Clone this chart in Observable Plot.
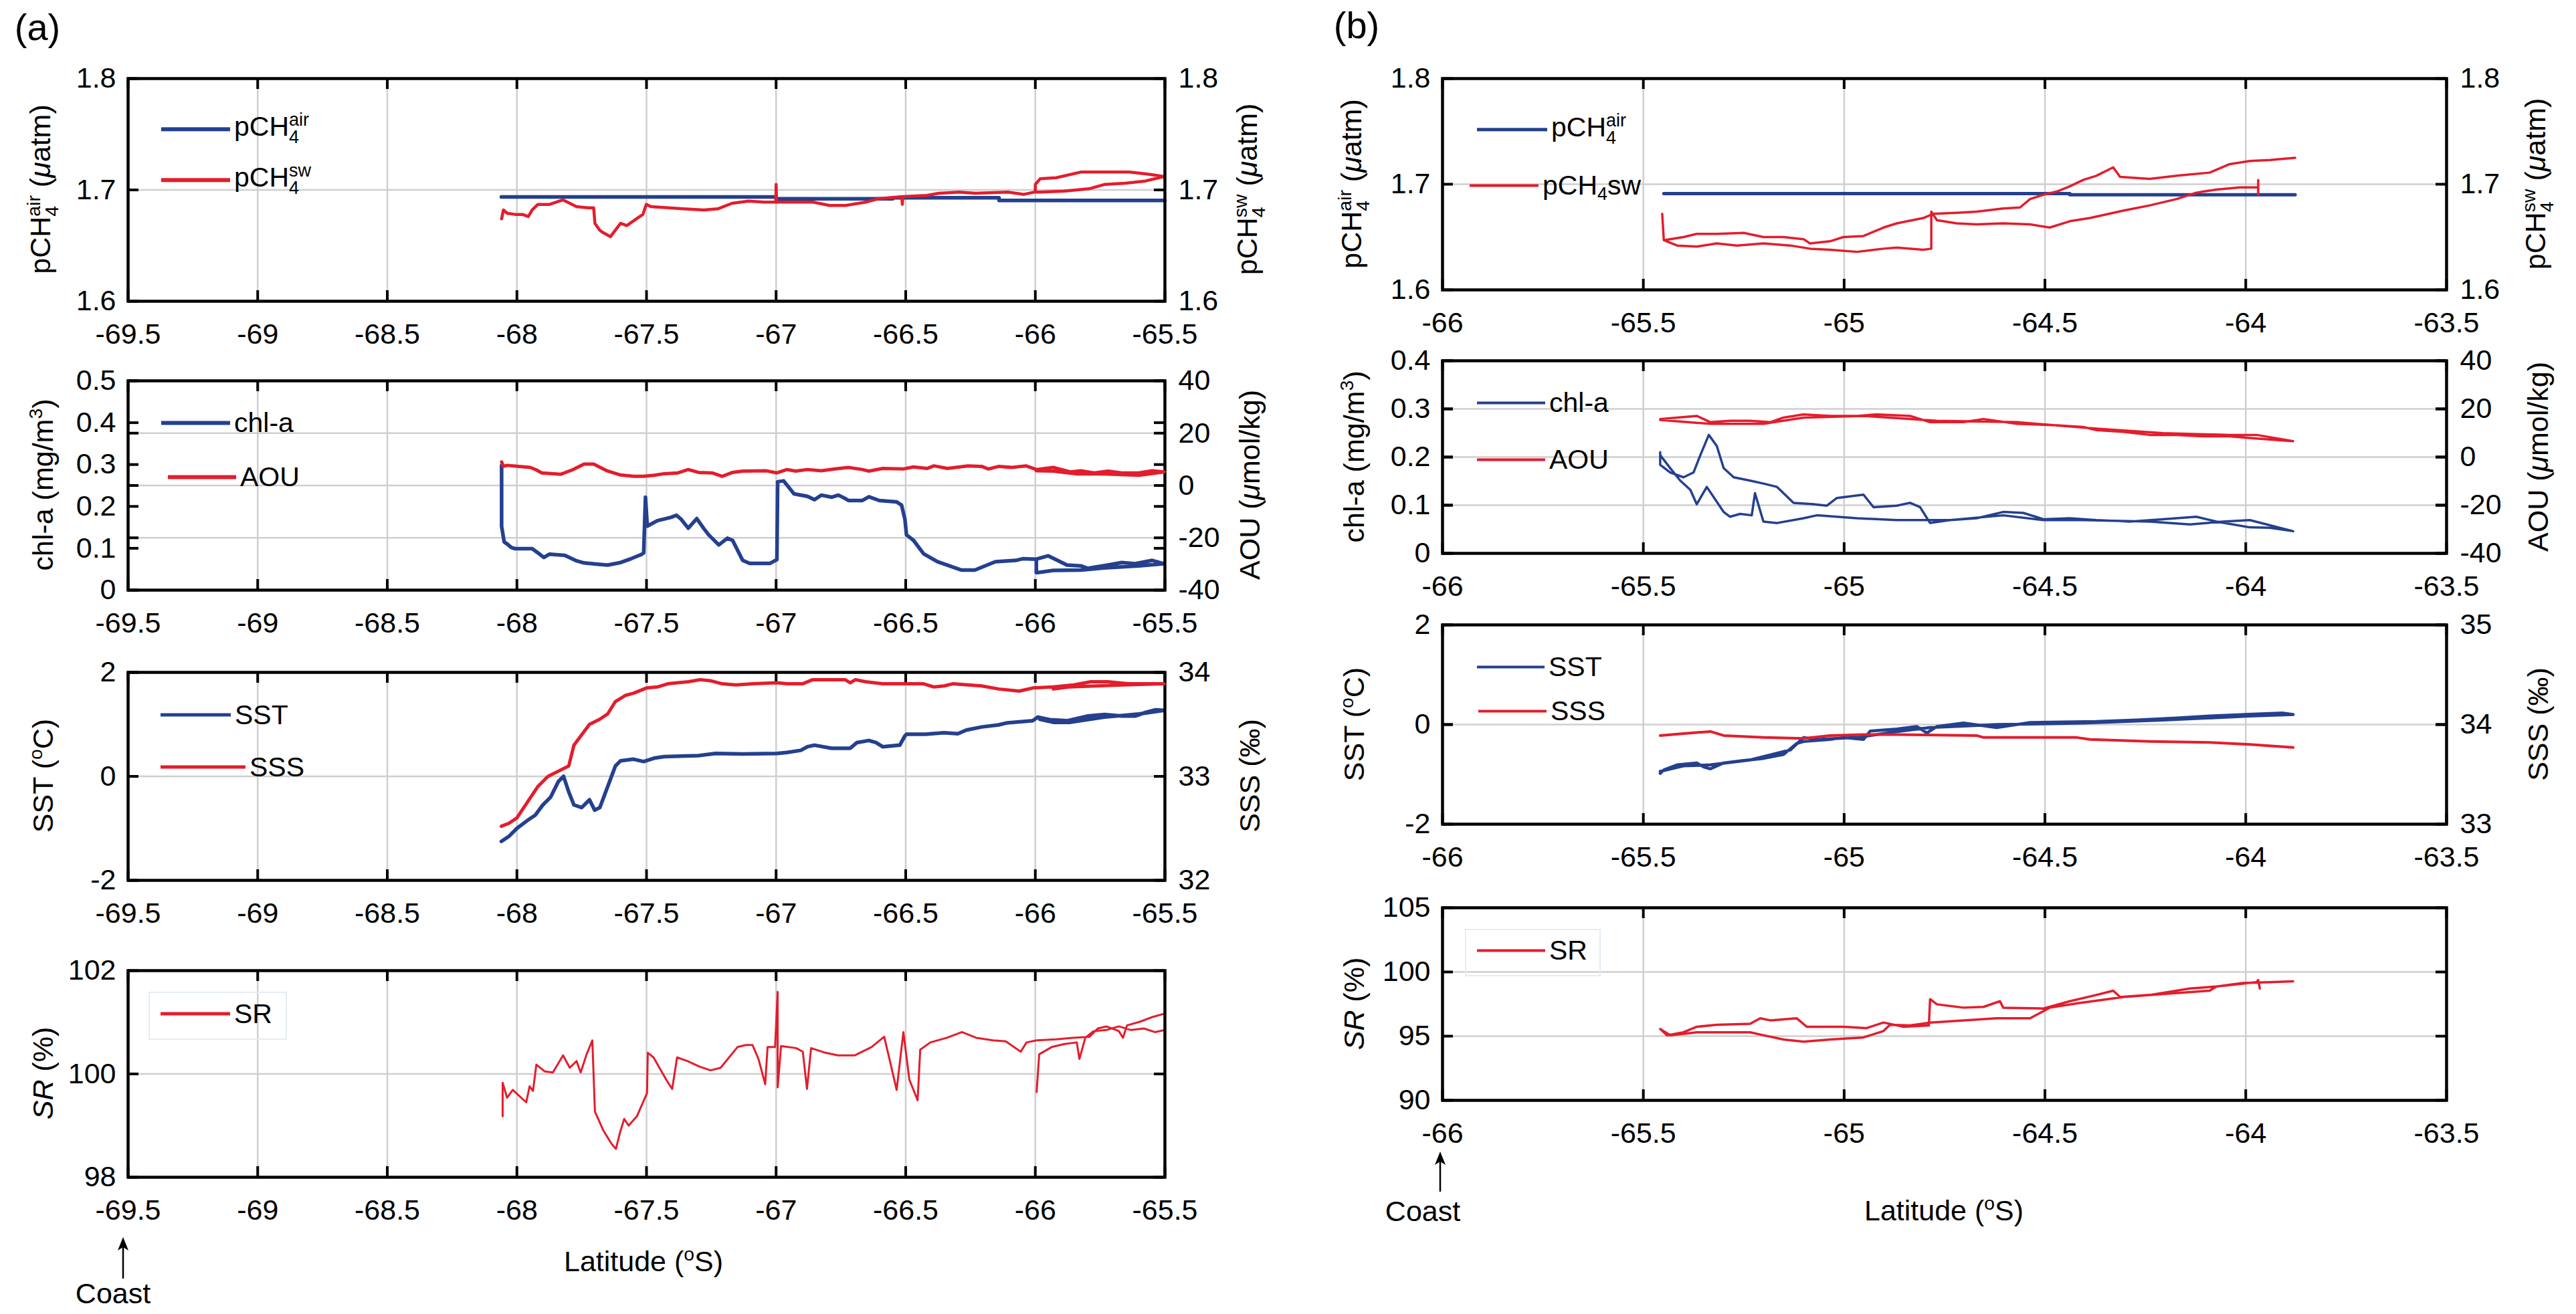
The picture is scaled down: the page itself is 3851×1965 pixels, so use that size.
<!DOCTYPE html>
<html><head><meta charset="utf-8">
<script src="https://cdn.jsdelivr.net/npm/d3@7"></script>
<script src="https://cdn.jsdelivr.net/npm/@observablehq/plot@0.6"></script>
<style>
html,body{margin:0;padding:0;background:#fff;}
#fig{position:relative;width:3851px;height:1965px;overflow:hidden;background:#fff;font-family:"Liberation Sans",Arial,sans-serif;color:#000;}
.lbl{position:absolute;white-space:nowrap;line-height:1;transform:translate(-50%,-50%) rotate(-90deg);}
.ctr{position:absolute;white-space:nowrap;line-height:1;transform:translate(-50%,-50%);}
.ss{display:inline-block;font-size:0.66em;line-height:0.95;vertical-align:-0.42em;text-align:left;}
.ss>span{display:block;}
sup{font-size:0.66em;vertical-align:0.55em;line-height:0;}
sub{font-size:0.66em;vertical-align:-0.3em;line-height:0;}
.leg{position:absolute;display:flex;align-items:center;white-space:nowrap;font-size:41px;line-height:1;transform:translateY(-50%);}
.leg .sw{margin-right:6px;}
.box{position:absolute;border:2px solid #e3edf3;background:transparent;}
</style></head><body><div id="fig"></div><script>
// ---------- tick values ----------
const xTicksA = [-69.5,-69,-68.5,-68,-67.5,-67,-66.5,-66,-65.5];
const xTicksB = [-66,-65.5,-65,-64.5,-64,-63.5];
const ticksPCH4 = [1.6,1.7,1.8];
const ticksChlA = [0,0.1,0.2,0.3,0.4,0.5];
const ticksChlB = [0,0.1,0.2,0.3,0.4];
const ticksAOU = [-40,-20,0,20,40];
const gridAOU = [-20,0,20];
const ticksSST = [-2,0,2];
const ticksSSSA = [32,33,34];
const ticksSSSB = [33,34,35];
const ticksSRA = [98,100,102];
const ticksSRB = [90,95,100,105];

// ---------- (a) series: [latitude, value] ----------
const a_pch4air = [[-68.06,1.6937],[-67.0,1.6937],[-67.0,1.692],[-66.55,1.692],[-66.55,1.693],[-66.14,1.693],[-66.14,1.6905],[-65.5,1.6905]];
const a_pch4sw = [[-68.059,1.674],[-68.052,1.682],[-68.037,1.679],[-68.007,1.678],[-67.978,1.678],[-67.956,1.676],[-67.941,1.682],[-67.919,1.687],[-67.874,1.687],[-67.822,1.691],[-67.770,1.685],[-67.726,1.684],[-67.704,1.684],[-67.699,1.670],[-67.681,1.664],[-67.670,1.662],[-67.639,1.658],[-67.600,1.670],[-67.576,1.668],[-67.545,1.673],[-67.514,1.678],[-67.501,1.687],[-67.483,1.685],[-67.358,1.683],[-67.279,1.682],[-67.225,1.683],[-67.170,1.688],[-67.107,1.690],[-67.045,1.689],[-67.001,1.689],[-67.000,1.705],[-66.998,1.689],[-66.857,1.689],[-66.794,1.686],[-66.732,1.686],[-66.654,1.689],[-66.607,1.692],[-66.515,1.694],[-66.513,1.687],[-66.511,1.694],[-66.419,1.695],[-66.372,1.697],[-66.294,1.698],[-66.231,1.697],[-66.106,1.698],[-66.044,1.696],[-66.005,1.698],[-65.981,1.698],[-65.887,1.699],[-65.793,1.701],[-65.731,1.705],[-65.653,1.706],[-65.575,1.708],[-65.504,1.712],[-65.559,1.714],[-65.637,1.716],[-65.715,1.716],[-65.825,1.716],[-65.919,1.711],[-65.981,1.710],[-66.000,1.705],[-66.000,1.698]];
const a_chl = [[-68.059,0.298],[-68.059,0.152],[-68.049,0.115],[-68.037,0.110],[-68.022,0.102],[-68.007,0.099],[-67.941,0.099],[-67.919,0.089],[-67.896,0.078],[-67.874,0.086],[-67.815,0.083],[-67.770,0.070],[-67.741,0.065],[-67.689,0.062],[-67.650,0.060],[-67.600,0.066],[-67.560,0.075],[-67.520,0.085],[-67.511,0.089],[-67.504,0.222],[-67.497,0.153],[-67.458,0.166],[-67.405,0.174],[-67.385,0.179],[-67.366,0.169],[-67.339,0.148],[-67.306,0.171],[-67.280,0.148],[-67.260,0.132],[-67.221,0.108],[-67.188,0.124],[-67.168,0.119],[-67.129,0.071],[-67.102,0.064],[-67.023,0.064],[-66.997,0.073],[-66.994,0.259],[-66.971,0.261],[-66.931,0.230],[-66.879,0.224],[-66.852,0.216],[-66.826,0.227],[-66.786,0.222],[-66.760,0.227],[-66.734,0.219],[-66.721,0.214],[-66.668,0.214],[-66.642,0.223],[-66.602,0.214],[-66.536,0.211],[-66.516,0.203],[-66.503,0.169],[-66.497,0.132],[-66.470,0.119],[-66.431,0.087],[-66.378,0.068],[-66.286,0.048],[-66.233,0.048],[-66.194,0.058],[-66.154,0.068],[-66.075,0.071],[-66.049,0.075],[-65.996,0.074],[-65.950,0.082],[-65.904,0.068],[-65.878,0.060],[-65.825,0.058],[-65.799,0.052],[-65.720,0.060],[-65.667,0.066],[-65.615,0.063],[-65.549,0.071],[-65.503,0.063],[-65.601,0.058],[-65.733,0.053],[-65.825,0.048],[-65.931,0.047],[-65.990,0.042],[-65.996,0.042],[-65.996,0.074]];
const a_aou = [[-68.059,9.0],[-68.052,7.3],[-68.037,7.7],[-67.993,7.3],[-67.948,6.9],[-67.926,6.0],[-67.904,4.8],[-67.830,4.3],[-67.785,6.0],[-67.741,8.2],[-67.704,8.2],[-67.650,5.5],[-67.600,4.0],[-67.550,3.5],[-67.511,3.5],[-67.471,3.9],[-67.432,4.5],[-67.379,4.8],[-67.339,6.1],[-67.300,5.0],[-67.247,4.8],[-67.208,3.5],[-67.168,5.0],[-67.129,5.5],[-67.037,5.6],[-66.997,4.8],[-66.958,6.1],[-66.925,5.5],[-66.879,6.1],[-66.826,5.6],[-66.773,6.3],[-66.721,6.9],[-66.668,6.1],[-66.642,5.5],[-66.589,6.5],[-66.510,6.3],[-66.470,7.1],[-66.418,6.5],[-66.391,7.5],[-66.339,6.5],[-66.260,7.5],[-66.207,7.3],[-66.181,6.3],[-66.141,7.3],[-66.089,6.9],[-66.036,7.5],[-65.996,6.1],[-65.931,6.9],[-65.865,5.2],[-65.825,5.6],[-65.773,4.8],[-65.720,5.5],[-65.667,4.8],[-65.601,4.8],[-65.549,5.6],[-65.503,5.2],[-65.601,3.9],[-65.733,4.4],[-65.838,4.4],[-65.931,5.5],[-65.996,5.6]];
const a_sst = [[-68.06,-1.25],[-68.03,-1.15],[-68.0,-1.0],[-67.96,-0.85],[-67.93,-0.75],[-67.9,-0.55],[-67.87,-0.4],[-67.84,-0.1],[-67.82,0.0],[-67.8,-0.3],[-67.78,-0.55],[-67.75,-0.6],[-67.72,-0.45],[-67.7,-0.65],[-67.68,-0.6],[-67.65,-0.2],[-67.62,0.2],[-67.6,0.3],[-67.55,0.33],[-67.511,0.285],[-67.471,0.35],[-67.432,0.38],[-67.300,0.40],[-67.234,0.44],[-67.129,0.43],[-66.997,0.44],[-66.958,0.46],[-66.905,0.50],[-66.879,0.57],[-66.852,0.60],[-66.786,0.54],[-66.714,0.54],[-66.688,0.65],[-66.642,0.69],[-66.615,0.65],[-66.589,0.57],[-66.523,0.60],[-66.503,0.78],[-66.497,0.81],[-66.424,0.81],[-66.352,0.84],[-66.299,0.82],[-66.266,0.89],[-66.207,0.95],[-66.141,0.99],[-66.108,1.03],[-66.010,1.07],[-65.990,1.14],[-65.944,1.09],[-65.878,1.07],[-65.799,1.16],[-65.733,1.19],[-65.667,1.16],[-65.615,1.16],[-65.575,1.23],[-65.536,1.28],[-65.503,1.27],[-65.601,1.20],[-65.733,1.14],[-65.865,1.04],[-65.931,1.04],[-65.983,1.10]];
const a_sss = [[-68.06,32.52],[-68.03,32.55],[-68.0,32.6],[-67.96,32.75],[-67.92,32.9],[-67.88,33.0],[-67.84,33.05],[-67.8,33.1],[-67.78,33.3],[-67.75,33.4],[-67.72,33.5],[-67.68,33.55],[-67.65,33.6],[-67.62,33.72],[-67.58,33.78],[-67.55,33.8],[-67.5,33.85],[-67.458,33.86],[-67.418,33.89],[-67.339,33.91],[-67.293,33.93],[-67.254,33.92],[-67.208,33.89],[-67.155,33.88],[-67.089,33.89],[-66.997,33.90],[-66.958,33.89],[-66.898,33.89],[-66.859,33.93],[-66.734,33.93],[-66.714,33.90],[-66.694,33.93],[-66.655,33.91],[-66.589,33.89],[-66.431,33.89],[-66.391,33.86],[-66.352,33.87],[-66.319,33.89],[-66.207,33.87],[-66.141,33.84],[-66.062,33.82],[-66.010,33.85],[-65.931,33.86],[-65.852,33.88],[-65.786,33.91],[-65.720,33.91],[-65.641,33.89],[-65.503,33.89],[-65.66,33.88],[-65.87,33.86],[-65.93,33.84]];
const a_sr = [[-68.055,99.18],[-68.055,99.83],[-68.038,99.54],[-68.016,99.69],[-67.964,99.45],[-67.951,99.76],[-67.938,99.67],[-67.925,100.18],[-67.893,100.05],[-67.861,100.03],[-67.822,100.36],[-67.796,100.12],[-67.770,100.25],[-67.754,100.03],[-67.731,100.38],[-67.709,100.65],[-67.699,99.27],[-67.667,98.91],[-67.634,98.64],[-67.618,98.55],[-67.602,98.87],[-67.586,99.13],[-67.569,99.00],[-67.537,99.18],[-67.498,99.63],[-67.495,100.41],[-67.473,100.32],[-67.424,99.89],[-67.401,99.71],[-67.382,100.32],[-67.343,100.25],[-67.295,100.14],[-67.253,100.07],[-67.214,100.12],[-67.149,100.52],[-67.117,100.56],[-67.091,100.56],[-67.068,100.29],[-67.042,99.80],[-67.033,100.52],[-67.004,100.52],[-66.994,101.59],[-66.994,99.74],[-66.981,100.54],[-66.923,100.50],[-66.897,100.43],[-66.881,99.71],[-66.865,100.50],[-66.810,100.41],[-66.761,100.36],[-66.696,100.36],[-66.632,100.52],[-66.583,100.72],[-66.567,100.38],[-66.535,99.69],[-66.509,100.81],[-66.486,99.89],[-66.454,99.49],[-66.444,100.47],[-66.405,100.61],[-66.341,100.70],[-66.283,100.81],[-66.228,100.70],[-66.163,100.65],[-66.114,100.63],[-66.056,100.43],[-66.034,100.61],[-65.995,100.65],[-65.920,100.67],[-65.856,100.70],[-65.791,100.72],[-65.759,100.88],[-65.726,100.92],[-65.678,100.83],[-65.662,100.70],[-65.646,100.94],[-65.597,101.01],[-65.549,101.10],[-65.500,101.17],[-65.500,100.85],[-65.539,100.81],[-65.581,100.88],[-65.630,100.85],[-65.678,100.92],[-65.726,100.85],[-65.775,100.83],[-65.807,100.70],[-65.830,100.29],[-65.840,100.61],[-65.888,100.58],[-65.937,100.52],[-65.985,100.38],[-65.995,99.65]];

// ---------- (b) series ----------
const b_pch4air = [[-65.449,1.6911],[-64.438,1.6911],[-64.438,1.690],[-63.877,1.690]];
const b_pch4sw = [[-63.969,1.690],[-63.969,1.704],[-63.969,1.697],[-64.015,1.697],[-64.073,1.695],[-64.123,1.692],[-64.172,1.686],[-64.239,1.680],[-64.305,1.675],[-64.388,1.668],[-64.438,1.665],[-64.488,1.659],[-64.537,1.662],[-64.604,1.663],[-64.670,1.662],[-64.720,1.663],[-64.769,1.666],[-64.783,1.674],[-64.783,1.639],[-64.803,1.638],[-64.869,1.640],[-64.902,1.639],[-64.968,1.636],[-65.035,1.638],[-65.085,1.639],[-65.134,1.642],[-65.201,1.644],[-65.267,1.642],[-65.317,1.644],[-65.367,1.641],[-65.416,1.642],[-65.449,1.647],[-65.453,1.672],[-65.449,1.647],[-65.400,1.650],[-65.367,1.653],[-65.317,1.653],[-65.250,1.654],[-65.201,1.650],[-65.151,1.650],[-65.101,1.648],[-65.085,1.644],[-65.035,1.646],[-65.002,1.650],[-64.952,1.651],[-64.902,1.659],[-64.869,1.663],[-64.803,1.668],[-64.778,1.672],[-64.720,1.673],[-64.670,1.674],[-64.604,1.677],[-64.562,1.678],[-64.537,1.686],[-64.504,1.690],[-64.471,1.693],[-64.438,1.698],[-64.405,1.704],[-64.372,1.708],[-64.330,1.716],[-64.313,1.707],[-64.239,1.705],[-64.172,1.708],[-64.090,1.711],[-64.040,1.719],[-63.990,1.722],[-63.940,1.723],[-63.877,1.725]];
const b_aou = [[-65.458,15.8],[-65.416,16.4],[-65.367,17.1],[-65.333,14.5],[-65.284,15.1],[-65.234,15.1],[-65.184,14.5],[-65.151,16.4],[-65.101,17.7],[-65.035,17.1],[-64.968,17.1],[-64.919,17.7],[-64.836,17.1],[-64.786,14.5],[-64.703,14.5],[-64.653,15.8],[-64.570,13.8],[-64.471,13.2],[-64.405,12.5],[-64.371,11.2],[-64.305,10.5],[-64.239,9.2],[-64.172,9.2],[-64.106,8.6],[-64.040,8.6],[-63.990,7.9],[-63.940,7.3],[-63.882,6.6],[-63.973,9.2],[-64.040,9.2],[-64.206,9.9],[-64.371,11.8],[-64.570,14.5],[-64.769,15.1],[-64.952,17.1],[-65.101,16.4],[-65.201,13.8],[-65.333,13.8],[-65.458,15.4]];
const b_chl = [[-65.458,0.210],[-65.458,0.184],[-65.433,0.168],[-65.400,0.158],[-65.375,0.168],[-65.358,0.204],[-65.337,0.246],[-65.317,0.223],[-65.300,0.177],[-65.275,0.158],[-65.234,0.151],[-65.201,0.145],[-65.167,0.138],[-65.126,0.105],[-65.076,0.102],[-65.043,0.099],[-65.018,0.115],[-64.952,0.122],[-64.927,0.096],[-64.869,0.099],[-64.836,0.105],[-64.811,0.096],[-64.786,0.063],[-64.736,0.069],[-64.670,0.073],[-64.604,0.086],[-64.554,0.084],[-64.504,0.071],[-64.438,0.073],[-64.372,0.069],[-64.289,0.066],[-64.206,0.071],[-64.123,0.076],[-64.073,0.066],[-63.990,0.054],[-63.940,0.053],[-63.882,0.046],[-63.990,0.069],[-64.056,0.066],[-64.139,0.060],[-64.239,0.066],[-64.405,0.069],[-64.504,0.069],[-64.604,0.079],[-64.736,0.069],[-64.869,0.069],[-64.968,0.073],[-65.068,0.079],[-65.101,0.073],[-65.167,0.063],[-65.201,0.066],[-65.222,0.125],[-65.230,0.079],[-65.259,0.082],[-65.284,0.076],[-65.300,0.086],[-65.342,0.138],[-65.367,0.102],[-65.383,0.132],[-65.408,0.151],[-65.433,0.177],[-65.458,0.204]];
const b_sst = [[-65.458,-0.98],[-65.449,-0.91],[-65.416,-0.81],[-65.367,-0.77],[-65.350,-0.85],[-65.333,-0.89],[-65.300,-0.77],[-65.250,-0.72],[-65.201,-0.68],[-65.151,-0.60],[-65.118,-0.38],[-65.101,-0.34],[-65.035,-0.30],[-65.002,-0.26],[-64.952,-0.30],[-64.935,-0.13],[-64.869,-0.09],[-64.819,-0.04],[-64.794,-0.17],[-64.769,-0.04],[-64.703,0.03],[-64.620,-0.06],[-64.537,0.04],[-64.372,0.06],[-64.272,0.09],[-64.172,0.13],[-64.090,0.17],[-63.973,0.21],[-63.907,0.23],[-63.882,0.20],[-63.990,0.17],[-64.206,0.09],[-64.405,0.03],[-64.620,0.0],[-64.786,-0.06],[-64.869,-0.14],[-64.968,-0.26],[-65.068,-0.30],[-65.101,-0.26],[-65.134,-0.51],[-65.234,-0.71],[-65.333,-0.81],[-65.400,-0.83],[-65.458,-0.94]];
const b_sss = [[-65.458,33.89],[-65.400,33.91],[-65.333,33.93],[-65.300,33.89],[-65.201,33.87],[-65.101,33.86],[-65.035,33.89],[-64.952,33.90],[-64.869,33.90],[-64.670,33.89],[-64.653,33.87],[-64.421,33.87],[-64.388,33.85],[-64.239,33.83],[-64.090,33.82],[-63.990,33.80],[-63.882,33.77]];
const b_sr = [[-63.965,98.71],[-63.969,99.37],[-63.973,99.21],[-64.073,98.87],[-64.090,98.54],[-64.206,98.28],[-64.305,98.05],[-64.421,97.55],[-64.488,97.22],[-64.537,96.39],[-64.620,96.39],[-64.703,96.23],[-64.786,96.06],[-64.836,95.83],[-64.886,95.89],[-64.902,95.40],[-64.952,94.90],[-65.035,94.74],[-65.101,94.57],[-65.151,94.74],[-65.201,95.07],[-65.234,95.30],[-65.367,95.30],[-65.433,95.07],[-65.458,95.56],[-65.441,95.07],[-65.400,95.30],[-65.367,95.73],[-65.317,95.89],[-65.234,95.96],[-65.209,96.39],[-65.184,96.23],[-65.118,96.39],[-65.093,95.73],[-65.002,95.73],[-64.944,95.63],[-64.902,96.06],[-64.852,95.73],[-64.789,95.83],[-64.786,97.88],[-64.769,97.48],[-64.703,97.22],[-64.653,97.28],[-64.612,97.72],[-64.604,97.22],[-64.504,97.15],[-64.438,97.72],[-64.372,98.21],[-64.330,98.54],[-64.313,98.05],[-64.239,98.21],[-64.139,98.71],[-64.073,98.87],[-64.007,99.14],[-63.940,99.21],[-63.882,99.27]];

// ---------- drawing ----------
const BLUE = "#24408e", RED = "#e31d2c", GRID = "#cfcfcf";
const fig = document.getElementById("fig");
const fmt = d => String(d);
const FONT = '"Liberation Sans", Arial, sans-serif';
const TICK = 16;

function mkPlot({x0,x1,top,bottom,xDomain,xTicks,yDomain,yTicks,grid,series,base,labelsLeft,labelsRight}) {
  const mL=140,mR=140,mT=20,mB=90;
  const iw = x1-x0, ih = bottom-top;
  const marks=[];
  if (base) marks.push(Plot.gridX({ticks:xTicks, stroke:GRID, strokeOpacity:1, strokeWidth:2.5}));
  if (grid) marks.push(Plot.gridY({ticks:grid, stroke:GRID, strokeOpacity:1, strokeWidth:2.5}));
  for (const s of series) marks.push(Plot.line(s.data,{x:d=>d[0], y:d=>d[1], stroke:s.color, strokeWidth:s.width}));
  if (labelsLeft) marks.push(Plot.axisY({anchor:"left", ticks:yTicks, tickSize:0, tickPadding:18, tickFormat:fmt, label:null}));
  if (labelsRight) marks.push(Plot.axisY({anchor:"right", ticks:yTicks, tickSize:0, tickPadding:20, tickFormat:fmt, label:null}));
  // inward tick marks on both vertical sides of the box
  marks.push(Plot.tickY(yTicks, {y:d=>d, insetRight:iw-TICK, stroke:"#000", strokeWidth:4}));
  marks.push(Plot.tickY(yTicks, {y:d=>d, insetLeft:iw-TICK, stroke:"#000", strokeWidth:4}));
  if (base) {
    marks.push(Plot.axisX({anchor:"bottom", ticks:xTicks, tickSize:0, tickPadding:33, tickFormat:fmt, label:null}));
    // inward tick marks at bottom and top of the box
    marks.push(Plot.tickX(xTicks, {x:d=>d, insetTop:ih-TICK, stroke:"#000", strokeWidth:4}));
    marks.push(Plot.tickX(xTicks, {x:d=>d, insetBottom:ih-TICK, stroke:"#000", strokeWidth:4}));
    marks.push(Plot.frame({stroke:"#000", strokeWidth:4.5}));
  }
  const svg = Plot.plot({
    width:iw+mL+mR, height:ih+mT+mB,
    marginLeft:mL, marginRight:mR, marginTop:mT, marginBottom:mB,
    x:{domain:xDomain, axis:null}, y:{domain:yDomain, axis:null},
    style:{background:"transparent", fontSize:"43px", fontFamily:FONT, overflow:"visible", maxWidth:"none", color:"#000"},
    marks
  });
  svg.style.position="absolute"; svg.style.left=(x0-mL)+"px"; svg.style.top=(top-mT)+"px";
  fig.appendChild(svg);
}
// map right-axis grid values into left-axis units
const toLeft = (vals, [r0,r1], [l0,l1]) => vals.map(v => l0 + (v-r0)/(r1-r0)*(l1-l0));

const A = {x0:191, x1:1741, xDomain:[-69.5,-65.5], xTicks:xTicksA};
const B = {x0:2156, x1:3657, xDomain:[-66,-63.5], xTicks:xTicksB};

// (a)
mkPlot({...A, top:117, bottom:450, yDomain:[1.6,1.8], yTicks:ticksPCH4, grid:[1.7], base:true, labelsLeft:true, labelsRight:true,
  series:[{data:a_pch4air,color:BLUE,width:5.5},{data:a_pch4sw,color:RED,width:4.5}]});
mkPlot({...A, top:569, bottom:882, yDomain:[0,0.5], yTicks:ticksChlA, grid:toLeft(gridAOU,[-40,40],[0,0.5]), base:true, labelsLeft:true,
  series:[{data:a_chl,color:BLUE,width:5.5}]});
mkPlot({...A, top:569, bottom:882, yDomain:[-40,40], yTicks:ticksAOU, base:false, labelsRight:true,
  series:[{data:a_aou,color:RED,width:5}]});
mkPlot({...A, top:1005, bottom:1316, yDomain:[-2,2], yTicks:ticksSST, grid:[0], base:true, labelsLeft:true,
  series:[{data:a_sst,color:BLUE,width:5.5}]});
mkPlot({...A, top:1005, bottom:1316, yDomain:[32,34], yTicks:ticksSSSA, base:false, labelsRight:true,
  series:[{data:a_sss,color:RED,width:5}]});
mkPlot({...A, top:1451, bottom:1760, yDomain:[98,102], yTicks:ticksSRA, grid:[100], base:true, labelsLeft:true,
  series:[{data:a_sr,color:RED,width:3}]});
// (b)
mkPlot({...B, top:117, bottom:433, yDomain:[1.6,1.8], yTicks:ticksPCH4, grid:[1.7], base:true, labelsLeft:true, labelsRight:true,
  series:[{data:b_pch4air,color:BLUE,width:5},{data:b_pch4sw,color:RED,width:3.5}]});
mkPlot({...B, top:539, bottom:827, yDomain:[0,0.4], yTicks:ticksChlB, grid:toLeft(gridAOU,[-40,40],[0,0.4]), base:true, labelsLeft:true,
  series:[{data:b_chl,color:BLUE,width:3.5}]});
mkPlot({...B, top:539, bottom:827, yDomain:[-40,40], yTicks:ticksAOU, base:false, labelsRight:true,
  series:[{data:b_aou,color:RED,width:3.5}]});
mkPlot({...B, top:934, bottom:1232, yDomain:[-2,2], yTicks:ticksSST, grid:[0], base:true, labelsLeft:true,
  series:[{data:b_sst,color:BLUE,width:4.5}]});
mkPlot({...B, top:934, bottom:1232, yDomain:[33,35], yTicks:ticksSSSB, base:false, labelsRight:true,
  series:[{data:b_sss,color:RED,width:4}]});
mkPlot({...B, top:1357, bottom:1645, yDomain:[90,105], yTicks:ticksSRB, grid:[95,100], base:true, labelsLeft:true,
  series:[{data:b_sr,color:RED,width:3.5}]});

// ---------- text ----------
function put(cls, html, x, y, fs) {
  const d = document.createElement("div");
  d.className = cls; d.style.left = x+"px"; d.style.top = y+"px"; d.style.fontSize = fs+"px";
  d.innerHTML = html; fig.appendChild(d); return d;
}
const PAIR = (a,b) => `<span class="ss"><span>${a}</span><span>${b}</span></span>`;
const labAir = `pCH${PAIR("air","4")} (<i>μ</i>atm)`;
const labSw = `pCH${PAIR("sw","4")} (<i>μ</i>atm)`;
const labChl = `chl-a (mg/m<sup>3</sup>)`;
const labAOU = `AOU (<i>μ</i>mol/kg)`;
const labSST = `SST (<sup>o</sup>C)`;
const labSSS = `SSS (‰)`;
const labSR = `<i>SR</i> (%)`;

// left / right axis titles
[[labAir,283],[labChl,725],[labSST,1160],[labSR,1605]].forEach(([h,y])=>put("lbl",h,64,y,43));
[[labSw,283],[labAOU,725],[labSSS,1160]].forEach(([h,y])=>put("lbl",h,1868,y,43));
[[labAir,275],[labChl,683],[labSST,1083],[labSR,1501]].forEach(([h,y])=>put("lbl",h,2024,y,43));
[[labSw,275],[labAOU,683],[labSSS,1083]].forEach(([h,y])=>put("lbl",h,3794,y,43));

// panel letters
put("ctr","(a)",56,41,56);
put("ctr","(b)",2028,38,56);
// x titles
put("ctr","Latitude (<sup>o</sup>S)",962,1886,43);
put("ctr","Latitude (<sup>o</sup>S)",2906,1810,43);
put("ctr","Coast",169,1934,43);
put("ctr","Coast",2127,1811,43);
function arrow(x, yTip, yTail) {
  const ns="http://www.w3.org/2000/svg";
  const s=document.createElementNS(ns,"svg");
  s.setAttribute("width",30); s.setAttribute("height",yTail-yTip+2);
  s.style.position="absolute"; s.style.left=(x-15)+"px"; s.style.top=yTip+"px";
  s.innerHTML=`<line x1="15" y1="12" x2="15" y2="${yTail-yTip}" stroke="#000" stroke-width="2.5"/><path d="M15,0 L7,20 L15,15 L23,20 Z" fill="#000"/>`;
  fig.appendChild(s);
}
arrow(184,1850,1912);
arrow(2153,1722,1782);

// legends
function leg(x, y, w, color, h, html) {
  const d = document.createElement("div");
  d.className="leg"; d.style.left=x+"px"; d.style.top=y+"px";
  d.innerHTML = `<span class="sw" style="display:inline-block;width:${w}px;height:${h}px;background:${color}"></span><span>${html}</span>`;
  fig.appendChild(d);
}
function box(x0,y0,x1,y1){ const d=document.createElement("div"); d.className="box"; d.style.left=x0+"px"; d.style.top=y0+"px"; d.style.width=(x1-x0)+"px"; d.style.height=(y1-y0)+"px"; fig.appendChild(d); }
leg(241,193,103,BLUE,6,`pCH${PAIR("air","4")}`);
leg(241,269,103,RED,6,`pCH${PAIR("sw","4")}`);
leg(241,632,103,BLUE,6,"chl-a");
leg(251,713,102,RED,6,"AOU");
leg(240,1069,105,BLUE,5,"SST");
leg(240,1147,127,RED,5,"SSS");
box(222,1483,425,1551);
leg(240,1516,104,RED,5,"SR");
leg(2208,194,105,BLUE,5,`pCH${PAIR("air","4")}`);
leg(2197,277,103,RED,4,`pCH<sub>4</sub>sw`);
leg(2208,602,102,BLUE,4,"chl-a");
leg(2208,687,102,RED,4,"AOU");
leg(2208,997,101,BLUE,4,"SST");
leg(2210,1063,102,RED,4,"SSS");
box(2190,1389,2389,1456);
leg(2208,1421,102,RED,4,"SR");
</script></body></html>
